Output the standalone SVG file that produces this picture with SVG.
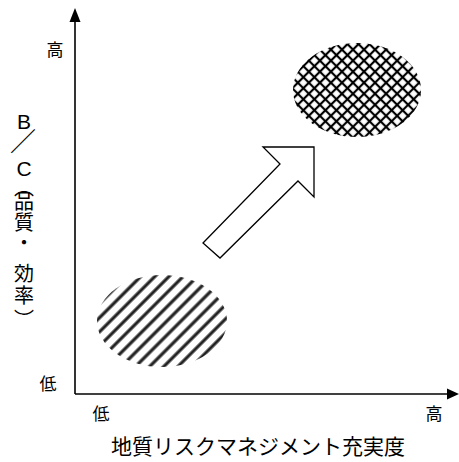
<svg xmlns="http://www.w3.org/2000/svg" width="459" height="462" viewBox="0 0 459 462">
<style>
.lbl{font-family:"Noto Sans CJK JP","Liberation Sans",sans-serif;fill:#000;}
.v{font-family:"Noto Sans CJK JP","Liberation Sans",sans-serif;fill:#000;font-size:20px;text-anchor:middle;}
.lat{font-family:"Liberation Sans",sans-serif;}
.ax{stroke:#000;stroke-width:1.6;fill:none;}
</style>
<defs>
<pattern id="stripes" width="10" height="10" patternUnits="userSpaceOnUse" patternTransform="rotate(-45)">
<rect width="10" height="10" fill="#fff"/>
<line x1="0" y1="5" x2="10" y2="5" stroke="#222" stroke-width="3.2"/>
</pattern>
<pattern id="cross" width="7.8" height="7.8" patternUnits="userSpaceOnUse" patternTransform="rotate(45)">
<rect width="7.8" height="7.8" fill="#fff"/>
<line x1="0" y1="3.9" x2="7.8" y2="3.9" stroke="#000" stroke-width="2.2"/>
<line x1="3.9" y1="0" x2="3.9" y2="7.8" stroke="#000" stroke-width="2.2"/>
</pattern>
<filter id="soft" x="-5%" y="-5%" width="110%" height="110%"><feGaussianBlur stdDeviation="0.5"/></filter>
</defs>
<g id="ellipse-high">
<ellipse cx="357" cy="90" rx="64" ry="47" fill="url(#cross)" filter="url(#soft)"/>
</g>
<g id="ellipse-low">
<ellipse cx="162" cy="321" rx="65" ry="46" fill="url(#stripes)" filter="url(#soft)"/>
</g>
<g id="arrow">
<polygon points="263,147 314,147 314,197 298,181 220,258 203,243 280,164" fill="#fff" stroke="#000" stroke-width="1.3"/>
</g>
<g id="connectors">
<line class="ax" x1="75" y1="20" x2="75" y2="394"/>
<line class="ax" x1="75" y1="394" x2="449" y2="394"/>
<polygon points="75,8 69.5,22 80.5,22" fill="#000"/>
<polygon points="459,394 447,388.5 447,399.5" fill="#000"/>
</g>
<g id="labels">
<text class="lbl" x="55" y="56" font-size="17" text-anchor="middle">高</text>
<text class="lbl" x="48" y="390" font-size="17" text-anchor="middle">低</text>
<text class="lbl" x="101" y="420" font-size="17" text-anchor="middle">低</text>
<text class="lbl" x="434" y="420" font-size="17" text-anchor="middle">高</text>
<text class="lbl" x="258" y="454" font-size="21" text-anchor="middle">地質リスクマネジメント充実度</text>
<g id="ylabel">
<text class="v lat" x="24" y="129" style="font-size:21px">B</text>
<text class="v" x="23" y="151" style="font-size:26px">／</text>
<text class="v lat" x="24" y="176" style="font-size:21px">C</text>
<text class="v" x="24" y="195">︵</text>
<text class="v" x="24" y="209">品</text>
<text class="v" x="24" y="230">質</text>
<text class="v" x="24" y="250">・</text>
<text class="v" x="24" y="281">効</text>
<text class="v" x="24" y="303">率</text>
<text class="v" x="24" y="327">︶</text>
</g>
</g>
</svg>
